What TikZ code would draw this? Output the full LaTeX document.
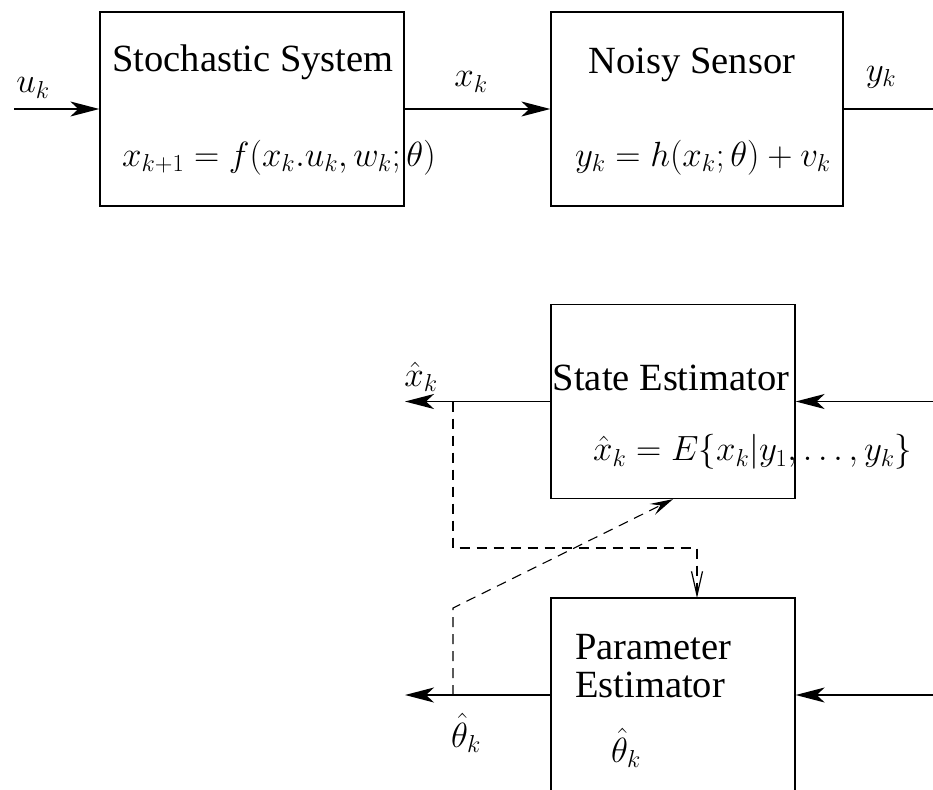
\documentclass[tikz,border=0pt]{standalone}
\usepackage{fix-cm}
\usepackage{fontspec}
\setmainfont{Liberation Serif}
\DeclareMathSizes{35}{35}{24.5}{17.5}
\usetikzlibrary{arrows.meta}
\tikzset{
  blockbox/.style={draw, line width=1.3pt, minimum width=#1, minimum height=194pt, inner sep=0pt},
  blockbox/.default=304pt,
  sig/.style={line width=1.4pt, -{Stealth[length=29pt,width=15pt,inset=8pt]}},
  plain/.style={line width=1.4pt},
  dashln/.style={line width=1.1pt, dash pattern=on 10pt off 7pt},
  ttl/.style={font=\fontsize{38.5}{42}\selectfont, inner sep=0pt},
  mth/.style={font=\fontsize{35}{40}\selectfont, inner sep=0pt}
}
\begin{document}
\begin{tikzpicture}[x=1pt,y=-1pt]
\useasboundingbox (0,0) rectangle (933,789);
\clip (0,0) rectangle (933,789);
% boxes
\node[blockbox=304pt] (sys) at (252,109) {};
\node[blockbox=292pt] (sen) at (697,109) {};
\node[blockbox=244pt] (se) at (673,401.5) {};
\node[blockbox=244pt] (pe) at (673,695) {};
% titles and formulas
\node[ttl] (t1) at (253,62) {Stochastic System};
\node[mth, anchor=west] (f1) at (122,158) {$x_{k+1}=f(x_k.u_k,w_k;\theta)$};
\node[ttl] (t2) at (692,65) {Noisy Sensor};
\node[mth, anchor=west] (f2) at (575,158) {$y_k=h(x_k;\theta)+v_k$};
\node[ttl] (t3) at (671,378) {State Estimator};
\node[mth, anchor=west] (f3) at (593,452) {$\hat{x}_k=E\{x_k|y_1,\ldots,y_k\}$};
\node[ttl, anchor=west] (t4a) at (575,647) {Parameter};
\node[ttl, anchor=west] (t4b) at (575,685) {Estimator};
\node[mth] (f4) at (626,748) {$\hat{\theta}_k$};
% signal labels
\node[mth] (lu) at (33,88) {$u_k$};
\node[mth] (lx) at (471,82) {$x_k$};
\node[mth] (ly) at (881,77) {$y_k$};
\node[mth] (lxh) at (421,377) {$\hat{x}_k$};
\node[mth] (lth) at (466,733) {$\hat{\theta}_k$};
% coordinates
\coordinate (uin) at (14,109);
\coordinate (yout) at (933,109);
\coordinate (sein) at (933,401.5);
\coordinate (seout) at (405,401.5);
\coordinate (pein) at (933,695);
\coordinate (peout) at (405,695);
\coordinate (j1) at (453,401.5);
\coordinate (j2) at (453,695);
\coordinate (bend1) at (453,548);
\coordinate (bend2) at (697,548);
\coordinate (petop) at (697,598);
\coordinate (bend3) at (453,608);
% connectors
\draw[sig] (uin) -- (sys.west);
\draw[sig] (sys.east) -- (sen.west);
\draw[plain] (sen.east) -- (yout);
\draw[sig] (sein) -- (se.east);
\draw[sig] (se.west) -- (seout);
\draw[sig] (pein) -- (pe.east);
\draw[sig] (pe.west) -- (peout);
\draw[dashln, -{Straight Barb[length=24pt,width=11pt,line width=1.2pt]}] (j1) -- (bend1) -- (bend2) -- (petop);
\draw[dashln, -{Stealth[length=23pt,width=12pt,inset=9pt]}] (j2) -- (bend3) -- (se.south);
\end{tikzpicture}
\end{document}
